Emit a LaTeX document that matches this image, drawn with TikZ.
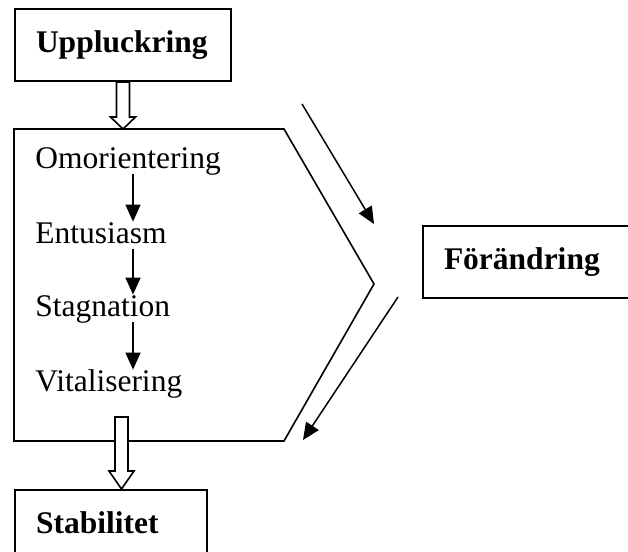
\documentclass[tikz,border=0pt]{standalone}
\usepackage{fontspec}
\setmainfont{Liberation Serif}
\usetikzlibrary{arrows.meta,positioning,calc}

% hollow block arrow: [head length]{from}{to}
\newcommand{\hollowarrow}[3][12]{%
  \draw[hollow] ($(#2)+(-6.5,0)$) -- ($(#3)+(-6.5,-#1)$) -- ($(#3)+(-12.5,-#1)$) -- (#3)
    -- ($(#3)+(12.5,-#1)$) -- ($(#3)+(6.5,-#1)$) -- ($(#2)+(6.5,0)$) -- cycle;}

\begin{document}
\begin{tikzpicture}[x=0.5pt, y=-0.5pt,
    box/.style={rectangle, draw, line width=1pt, anchor=north west, align=left, minimum height=36pt, inner xsep=10.5pt, text height=10.7pt, text depth=3.5pt, font=\bfseries\fontsize{15.75}{19}\selectfont},
    item/.style={anchor=base west, inner xsep=0pt, inner ysep=1pt, text height=9.5pt, text depth=1.8pt, font=\fontsize{15.75}{19}\selectfont},
    arrow/.style={-{Triangle[width=7.5pt,length=8.5pt]}, line width=0.75pt},
    hollow/.style={draw, line width=0.8pt, fill=white}]

    \useasboundingbox (0,0) rectangle (628,552);
    \clip (0,0) rectangle (628,552);

    % Phase shape
    \coordinate (hnw) at (14,129);
    \coordinate (hne) at (284,129);
    \coordinate (htip) at (374,284);
    \coordinate (hse) at (284,441);
    \coordinate (hsw) at (14,441);
    \draw[line width=0.8pt] (hnw) -- (hne) -- (htip) -- (hse) -- (hsw) -- cycle;

    % Boxes
    \node[box, text width=87pt] (upp) at (14,8) {Uppluckring};
    \node[box, text width=100pt] (fore) at (422,225) {Förändring};
    \node[box, text width=75pt] (stab) at (14,489) {Stabilitet};

    % Phases
    \node[item] (omo) at (35,168) {Omorientering};
    \node[item] (ent) at (35,243) {Entusiasm};
    \node[item] (stag) at (35,316) {Stagnation};
    \node[item] (vit) at (35,391) {Vitalisering};

    % Arrows between phases
    \coordinate (ax) at (133,0);
    \draw[arrow] (omo.south -| ax) -- (ent.north -| ax);
    \draw[arrow] (ent.south -| ax) -- (stag.north -| ax);
    \draw[arrow] (stag.south -| ax) -- (vit.north -| ax);

    % Block arrows in and out
    \coordinate (t1) at (upp.south |- hnw);
    \hollowarrow{upp.south}{t1}
    \coordinate (b1) at (121.5,417);
    \coordinate (t2) at (b1 |- stab.north);
    \hollowarrow[18]{b1}{t2}

    % Change arrows
    \coordinate (d1s) at (302,104);
    \coordinate (d1e) at (374,224);
    \coordinate (d2s) at (398,297);
    \coordinate (d2e) at (303,440);
    \draw[arrow] (d1s) -- (d1e);
    \draw[arrow] (d2s) -- (d2e);
\end{tikzpicture}
\end{document}
